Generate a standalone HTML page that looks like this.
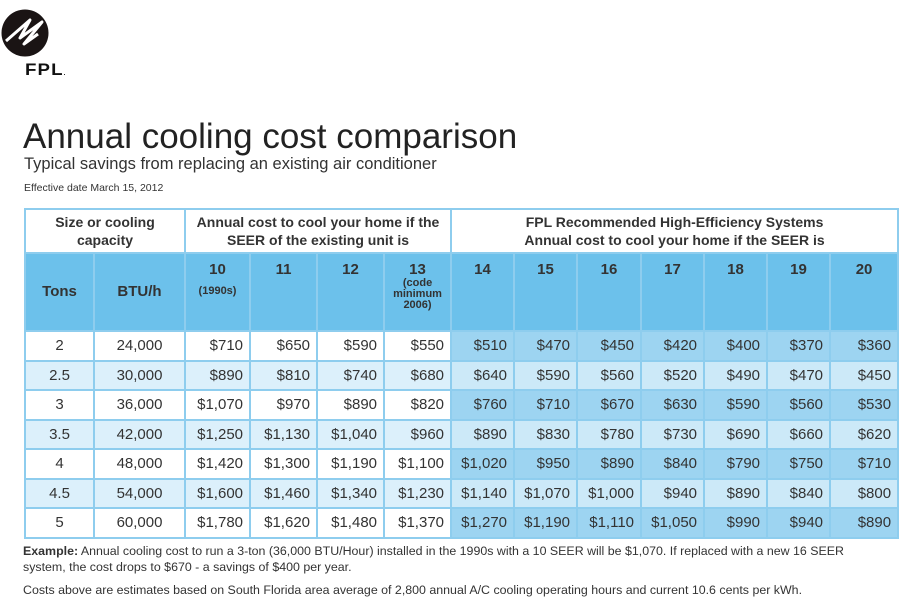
<!DOCTYPE html>
<html><head><meta charset="utf-8"><style>
body{margin:0;width:900px;height:600px;background:#fff;position:relative;overflow:hidden;font-family:"Liberation Sans",sans-serif;color:#2a2a2a}
.a{position:absolute;white-space:nowrap}
table{position:absolute;left:24px;top:208px;border-collapse:collapse;table-layout:fixed;width:873px;border:2px solid #8ecdee}
td{border:2px solid #8ecdee;padding:0;font-size:15px;text-align:right;padding-right:6px;height:27.5px;line-height:27px;color:#333}
td.c{text-align:center;padding-right:0}
tr.h1 td{height:42px;font-weight:bold;font-size:14px;line-height:18px;text-align:center;padding:0;background:#fff}
tr.h2 td{height:68px;background:#6cc1eb;font-weight:bold;font-size:15px;text-align:center;vertical-align:top;padding:8px 0 0 0;line-height:16px}
tr.h2 td.m{vertical-align:middle;padding:0}
tr.h2 small{font-size:11px;line-height:11px;display:block}
tr.w td{background:#fff}
tr.l td{background:#dcf0fb}
tr.w td.r{background:#9dd4f1}
tr.l td.r{background:#cce9f8}
</style></head><body>
<svg class="a" style="left:1px;top:9px" width="50" height="50" viewBox="0 0 50 50"><circle cx="24" cy="24" r="23.5" fill="#1a1414"/><path d="M5 32 L29 11 L19 29 L41 13 L23 35 L37 25" stroke="#fff" stroke-width="3" fill="none" stroke-linejoin="round"/></svg>
<div class="a" style="left:25px;top:60px;font-weight:bold;font-size:17px;letter-spacing:1px;color:#111;transform:scaleX(1.1);transform-origin:left">FPL<span style="font-size:6px">.</span></div>
<div class="a" style="left:23px;top:117px;font-size:35px;color:#222">Annual cooling cost comparison</div>
<div class="a" style="left:24px;top:155px;font-size:16.5px;color:#333">Typical savings from replacing an existing air conditioner</div>
<div class="a" style="left:24px;top:182px;font-size:10.5px;color:#333">Effective date March 15, 2012</div>
<table>
<colgroup><col style="width:69px"><col style="width:91px"><col style="width:65px"><col style="width:67px"><col style="width:67px"><col style="width:67px"><col style="width:63px"><col style="width:63px"><col style="width:64px"><col style="width:63px"><col style="width:63px"><col style="width:63px"><col style="width:68px"></colgroup>
<tr class="h1"><td colspan="2">Size or cooling<br>capacity</td><td colspan="4">Annual cost to cool your home if the<br>SEER of the existing unit is</td><td colspan="7">FPL Recommended High-Efficiency Systems<br>Annual cost to cool your home if the SEER is</td></tr>
<tr class="h2"><td class="m">Tons</td><td class="m">BTU/h</td><td>10<small style="margin-top:8px">(1990s)</small></td><td>11</td><td>12</td><td>13<small>(code<br>minimum<br>2006)</small></td><td>14</td><td>15</td><td>16</td><td>17</td><td>18</td><td>19</td><td>20</td></tr>
<tr class="w"><td class="c">2</td><td class="c">24,000</td><td>$710</td><td>$650</td><td>$590</td><td>$550</td><td class="r">$510</td><td class="r">$470</td><td class="r">$450</td><td class="r">$420</td><td class="r">$400</td><td class="r">$370</td><td class="r">$360</td></tr>
<tr class="l"><td class="c">2.5</td><td class="c">30,000</td><td>$890</td><td>$810</td><td>$740</td><td>$680</td><td class="r">$640</td><td class="r">$590</td><td class="r">$560</td><td class="r">$520</td><td class="r">$490</td><td class="r">$470</td><td class="r">$450</td></tr>
<tr class="w"><td class="c">3</td><td class="c">36,000</td><td>$1,070</td><td>$970</td><td>$890</td><td>$820</td><td class="r">$760</td><td class="r">$710</td><td class="r">$670</td><td class="r">$630</td><td class="r">$590</td><td class="r">$560</td><td class="r">$530</td></tr>
<tr class="l"><td class="c">3.5</td><td class="c">42,000</td><td>$1,250</td><td>$1,130</td><td>$1,040</td><td>$960</td><td class="r">$890</td><td class="r">$830</td><td class="r">$780</td><td class="r">$730</td><td class="r">$690</td><td class="r">$660</td><td class="r">$620</td></tr>
<tr class="w"><td class="c">4</td><td class="c">48,000</td><td>$1,420</td><td>$1,300</td><td>$1,190</td><td>$1,100</td><td class="r">$1,020</td><td class="r">$950</td><td class="r">$890</td><td class="r">$840</td><td class="r">$790</td><td class="r">$750</td><td class="r">$710</td></tr>
<tr class="l"><td class="c">4.5</td><td class="c">54,000</td><td>$1,600</td><td>$1,460</td><td>$1,340</td><td>$1,230</td><td class="r">$1,140</td><td class="r">$1,070</td><td class="r">$1,000</td><td class="r">$940</td><td class="r">$890</td><td class="r">$840</td><td class="r">$800</td></tr>
<tr class="w"><td class="c">5</td><td class="c">60,000</td><td>$1,780</td><td>$1,620</td><td>$1,480</td><td>$1,370</td><td class="r">$1,270</td><td class="r">$1,190</td><td class="r">$1,110</td><td class="r">$1,050</td><td class="r">$990</td><td class="r">$940</td><td class="r">$890</td></tr>
</table>
<div class="a" style="left:23px;top:543px;font-size:12.4px;line-height:16px;color:#333"><b>Example:</b> Annual cooling cost to run a 3-ton (36,000 BTU/Hour) installed in the 1990s with a 10 SEER will be $1,070. If replaced with a new 16 SEER<br>system, the cost drops to $670 - a savings of $400 per year.</div>
<div class="a" style="left:23px;top:583px;font-size:12.4px;color:#333">Costs above are estimates based on South Florida area average of 2,800 annual A/C cooling operating hours and current 10.6 cents per kWh.</div>
</body></html>
